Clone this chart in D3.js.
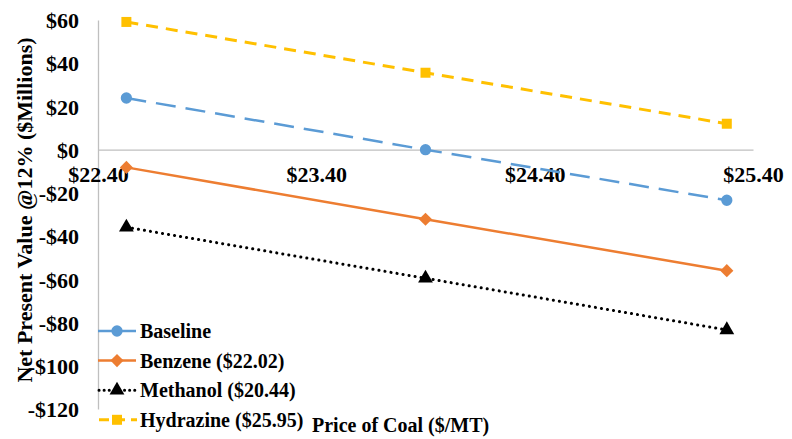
<!DOCTYPE html>
<html>
<head>
<meta charset="utf-8">
<script src="https://cdn.jsdelivr.net/npm/d3@7"></script>
<style>
  body { margin: 0; background: #fff; }
</style>
</head>
<body>
<svg id="chart"></svg>
<script>
// data
const coalPrices = [22.53, 23.90, 25.28]
const baseline = [23.9, 0, -23.4]
const benzene = [-8.2, -32.2, -56.0]
const methanol = [-35.9, -59.5, -83.4]
const hydrazine = [59.1, 35.6, 12.0]
const seriesNames = ["Baseline", "Benzene ($22.02)", "Methanol ($20.44)", "Hydrazine ($25.95)"]
const xTicks = [22.4, 23.4, 24.4, 25.4]
const yTicks = [60, 40, 20, 0, -20, -40, -60, -80, -100, -120]

const colors = {
    baseline: "#5B9BD5",
    benzene: "#ED7D31",
    methanol: "#000000",
    hydrazine: "#FFC000",
    axis: "#BFBFBF"
}

const font = "Liberation Serif"

const window_ = {width: 792, height: 439}
const plot = {left: 98, right: 753, top: 20, bottom: 409}

const svg = d3.select("#chart")
    .attr("width", window_.width)
    .attr("height", window_.height)
    .attr("font-family", font)
    .attr("font-weight", "bold")

const x = d3.scaleLinear().domain([22.4, 25.4]).range([plot.left, plot.right])
const y = d3.scaleLinear().domain([-120, 60]).range([plot.bottom, plot.top])

const money = v => v < 0 ? "-$" + Math.abs(v) : "$" + v

// helper: same text style everywhere (attributes only)
const styleText = (sel, size) => sel
    .attr("font-family", font)
    .attr("font-weight", "bold")
    .attr("font-size", size)
    .attr("fill", "#000")

// y axis: vertical line + labels on the left
const yAxis = svg.append("g").attr("transform", `translate(${plot.left},0)`)
    .call(d3.axisLeft(y).tickValues(yTicks).tickSize(0).tickPadding(19).tickFormat(money))
yAxis.attr("font-family", font)
yAxis.select(".domain").attr("stroke", colors.axis).attr("stroke-width", 1.3)
styleText(yAxis.selectAll("text"), 22).attr("dy", "0.35em")

// x axis sits on zero, labels below it
const xAxis = svg.append("g").attr("transform", `translate(0,${y(0)})`)
    .call(d3.axisBottom(x).tickValues(xTicks).tickSize(0).tickPadding(17).tickFormat(d => "$" + d.toFixed(2)))
xAxis.attr("font-family", font)
xAxis.select(".domain").attr("stroke", colors.axis).attr("stroke-width", 1.3)
styleText(xAxis.selectAll("text"), 22)

const series = [
    {name: seriesNames[0], values: baseline, color: colors.baseline, dash: "20,10", width: 2.5, marker: d3.symbolCircle, size: 100},
    {name: seriesNames[1], values: benzene, color: colors.benzene, dash: null, width: 2.5, marker: d3.symbolDiamond2, size: 110},
    {name: seriesNames[2], values: methanol, color: colors.methanol, dash: "0.1,6", width: 3, marker: d3.symbolTriangle, size: 95, cap: "round"},
    {name: seriesNames[3], values: hydrazine, color: colors.hydrazine, dash: "12,8", width: 3, marker: d3.symbolSquare, size: 100}
]

const line = d3.line().x((d, i) => x(coalPrices[i])).y(d => y(d))

const lines = svg.append("g").attr("class", "series")
    .selectAll("g")
    .data(series)
    .enter()
    .append("g")

lines.append("path")
    .attr("d", d => line(d.values))
    .attr("fill", "none")
    .attr("stroke", d => d.color)
    .attr("stroke-width", d => d.width)
    .attr("stroke-dasharray", d => d.dash)
    .attr("stroke-linecap", d => d.cap || "butt")

lines.selectAll(".mark")
    .data(d => d.values.map((v, i) => ({v: v, i: i, s: d})))
    .enter()
    .append("path")
    .attr("class", "mark")
    .attr("transform", d => `translate(${x(coalPrices[d.i])},${y(d.v)})`)
    .attr("d", d => d3.symbol().type(d.s.marker).size(d.s.size)())
    .attr("fill", d => d.s.color)

// legend, lower left
const legend = svg.append("g").attr("class", "legend")
    .selectAll("g")
    .data(series)
    .enter()
    .append("g")
    .attr("transform", (d, i) => `translate(98,${331 + i * 29.6})`)

legend.append("line")
    .attr("x1", 0).attr("x2", 38)
    .attr("stroke", d => d.color)
    .attr("stroke-width", d => d.width)
    .attr("stroke-dasharray", (d, i) => i == 2 ? "0.1,5" : (i == 3 ? "10,6" : null))
    .attr("stroke-linecap", d => d.cap || "butt")
    .attr("transform", (d, i) => i == 2 ? "translate(1,0)" : (i == 3 ? "translate(1,0)" : null))

legend.append("path")
    .attr("transform", "translate(19,0)")
    .attr("d", d => d3.symbol().type(d.marker).size(d.size)())
    .attr("fill", d => d.color)

styleText(legend.append("text"), 20)
    .attr("x", 42)
    .attr("dy", "0.35em")
    .text(d => d.name)

// axis titles
styleText(svg.append("text"), 20)
    .attr("x", 312).attr("y", 432)
    .text("Price of Coal ($/MT)")

styleText(svg.append("text"), 22)
    .attr("transform", "translate(32,210) rotate(-90)")
    .attr("text-anchor", "middle")
    .text("Net Present Value @12% ($Millions)")
</script>
</body>
</html>
